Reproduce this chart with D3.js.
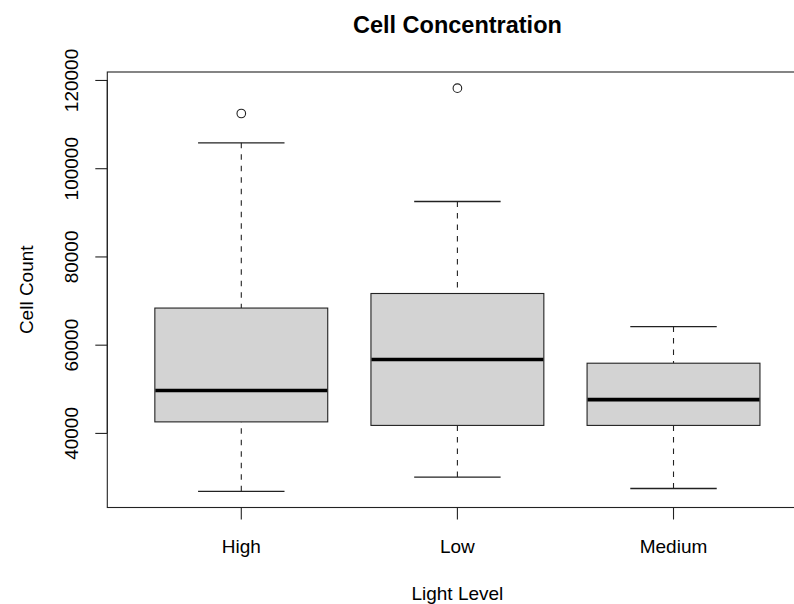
<!DOCTYPE html>
<html>
<head>
<meta charset="utf-8">
<script src="https://cdn.jsdelivr.net/npm/d3@7"></script>
<style>
  html, body { margin: 0; padding: 0; background: #fff; }
  svg { display: block; font-family: "Liberation Sans", Arial, sans-serif; }
</style>
</head>
<body>
<svg id="chart" width="794" height="604"></svg>
<script>
// ---- data ----
const categories   = ["High", "Low", "Medium"];
const whiskerLow   = [26750, 30000, 27400];
const q1           = [42500, 41700, 41700];
const medians      = [49600, 56650, 47550];
const q3           = [68300, 71600, 55800];
const whiskerHigh  = [105750, 92450, 64100];
const outliers     = [[112400], [118150], []];
const yTickValues  = [40000, 60000, 80000, 100000, 120000];
const titleText    = "Cell Concentration";
const xLabelText   = "Light Level";
const yLabelText   = "Cell Count";

// ---- layout ----
const svg = d3.select("#chart");
const plotLeft = 107.3, plotRight = 807.5, plotTop = 72, plotBottom = 507.5;

// y scale: data range expanded by 4% (R style)
const allVals = [].concat(whiskerLow, whiskerHigh, ...outliers);
const yMin = d3.min(allVals), yMax = d3.max(allVals);
const pad = (yMax - yMin) * 0.04;
const y = d3.scaleLinear().domain([yMin - pad, yMax + pad]).range([plotBottom, plotTop]);

// x: R style xlim [0.5, n+0.5] expanded 4%
const n = categories.length;
const xOuter = d3.scaleLinear()
  .domain([0.5 - 0.04 * n, n + 0.5 + 0.04 * n])
  .range([plotLeft, plotRight]);
const x = d3.scaleBand()
  .domain(categories)
  .range([xOuter(0.5), xOuter(n + 0.5)])
  .paddingInner(0.2)
  .paddingOuter(0.1);
const bw = x.bandwidth();
const cx = c => x(c) + bw / 2;

const ink = "#222";

// frame (right edge lies outside the picture)
svg.append("rect")
  .attr("x", plotLeft).attr("y", plotTop)
  .attr("width", plotRight - plotLeft).attr("height", plotBottom - plotTop)
  .attr("fill", "none").attr("stroke", ink).attr("stroke-width", 1.1);

// boxes
const g = svg.append("g");
categories.forEach((c, i) => {
  const xc = cx(c);
  // whiskers (dashed), drawn from staple to box
  g.append("line")
    .attr("x1", xc).attr("x2", xc)
    .attr("y1", y(whiskerHigh[i])).attr("y2", y(q3[i]))
    .attr("stroke", ink).attr("stroke-width", 1.1)
    .attr("stroke-dasharray", "5.5,6");
  g.append("line")
    .attr("x1", xc).attr("x2", xc)
    .attr("y1", y(whiskerLow[i])).attr("y2", y(q1[i]))
    .attr("stroke", ink).attr("stroke-width", 1.1)
    .attr("stroke-dasharray", "5.5,6");
  // staples
  [whiskerHigh[i], whiskerLow[i]].forEach(v => {
    g.append("line")
      .attr("x1", xc - bw / 4).attr("x2", xc + bw / 4)
      .attr("y1", y(v)).attr("y2", y(v))
      .attr("stroke", ink).attr("stroke-width", 1.3);
  });
  // box
  g.append("rect")
    .attr("x", x(c)).attr("width", bw)
    .attr("y", y(q3[i])).attr("height", y(q1[i]) - y(q3[i]))
    .attr("fill", "#d3d3d3").attr("stroke", ink).attr("stroke-width", 1.1);
  // median
  g.append("line")
    .attr("x1", x(c) + 0.5).attr("x2", x(c) + bw - 0.5)
    .attr("y1", y(medians[i])).attr("y2", y(medians[i]))
    .attr("stroke", "#000").attr("stroke-width", 3.6);
  // outliers
  outliers[i].forEach(v => {
    g.append("circle")
      .attr("cx", xc).attr("cy", y(v)).attr("r", 4.3)
      .attr("fill", "none").attr("stroke", ink).attr("stroke-width", 1.1);
  });
});

// y axis
const yAxis = svg.append("g")
  .attr("transform", `translate(${plotLeft},0)`)
  .call(d3.axisLeft(y).tickValues(yTickValues).tickSize(12).tickSizeOuter(0)
        .tickFormat(d3.format("d")));
yAxis.select(".domain").remove();
yAxis.append("line")
  .attr("x1", 0).attr("x2", 0)
  .attr("y1", y(yTickValues[0])).attr("y2", y(yTickValues[yTickValues.length - 1]))
  .attr("stroke", ink).attr("stroke-width", 1.1);
yAxis.selectAll(".tick line").attr("stroke", ink).attr("stroke-width", 1.1);
yAxis.selectAll(".tick text")
  .attr("x", null).attr("dy", null)
  .attr("transform", "translate(-29,0) rotate(-90)")
  .attr("text-anchor", "middle")
  .attr("fill", "#000")
  .style("font-size", "19px")
  .style("font-family", "'Liberation Sans', Arial, sans-serif");

// x axis
const xAxis = svg.append("g")
  .attr("transform", `translate(0,${plotBottom})`)
  .call(d3.axisBottom(x).tickSize(12).tickSizeOuter(0));
xAxis.select(".domain").remove();
xAxis.append("line")
  .attr("x1", cx(categories[0])).attr("x2", cx(categories[n - 1]))
  .attr("y1", 0).attr("y2", 0)
  .attr("stroke", ink).attr("stroke-width", 1.1);
xAxis.selectAll(".tick line").attr("stroke", ink).attr("stroke-width", 1.1);
xAxis.selectAll(".tick text")
  .attr("y", 45.5).attr("dy", null)
  .attr("fill", "#000")
  .style("font-size", "19px")
  .style("font-family", "'Liberation Sans', Arial, sans-serif");

// titles
const midX = (plotLeft + plotRight) / 2;
svg.append("text")
  .attr("x", midX).attr("y", 33)
  .attr("text-anchor", "middle")
  .style("font-size", "23.5px").style("font-weight", "bold")
  .text(titleText);
svg.append("text")
  .attr("x", midX).attr("y", 600)
  .attr("text-anchor", "middle")
  .style("font-size", "19px")
  .text(xLabelText);
svg.append("text")
  .attr("transform", `translate(32.7,${(plotTop + plotBottom) / 2}) rotate(-90)`)
  .attr("text-anchor", "middle")
  .style("font-size", "19px")
  .text(yLabelText);
</script>
</body>
</html>
